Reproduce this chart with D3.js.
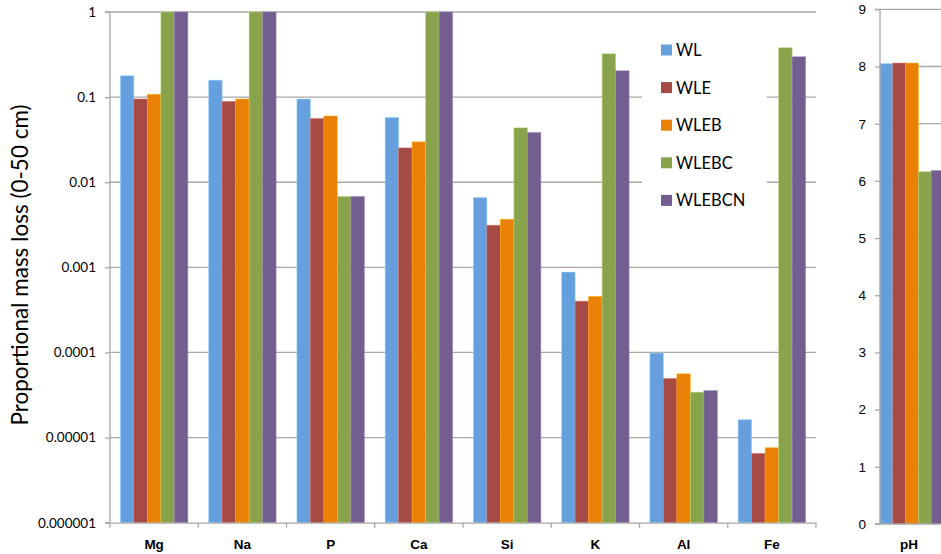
<!DOCTYPE html>
<html><head><meta charset="utf-8">
<script src="https://cdn.jsdelivr.net/npm/d3@7"></script>
<style>body{margin:0;background:#fff;} svg{display:block;font-family:Lato,"Open Sans",sans-serif;}</style>
</head><body>
<svg id="c" width="941" height="554"></svg>
<script>
const categories = ["Mg","Na","P","Ca","Si","K","Al","Fe"];
const series = ["WL","WLE","WLEB","WLEBC","WLEBCN"];
const colors = ["#669fdd","#a64a45","#eb8006","#89a24c","#735e8f"];
const WL     = [0.178, 0.158, 0.095, 0.0577, 0.0066, 0.00088, 0.0000982, 0.0000162];
const WLE    = [0.095, 0.089, 0.056, 0.0253, 0.00312, 0.00040, 0.0000494, 0.0000065];
const WLEB   = [0.108, 0.095, 0.060, 0.0298, 0.00367, 0.000456, 0.0000562, 0.0000076];
const WLEBC  = [1, 1, 0.0068, 1, 0.0435, 0.323, 0.0000341, 0.38];
const WLEBCN = [1, 1, 0.0068, 1, 0.0384, 0.204, 0.0000357, 0.298];
const logTicks = [1, 0.1, 0.01, 0.001, 0.0001, 0.00001, 0.000001];
const logTickLabels = ["1","0.1","0.01","0.001","0.0001","0.00001","0.000001"];
const phCategory = ["pH"];
const phValues = [8.05, 8.06, 8.06, 6.16, 6.18];
const phTicks = [0,1,2,3,4,5,6,7,8,9];

const values = [WL, WLE, WLEB, WLEBC, WLEBCN];
const svg = d3.select("#c");
const grid = "#a8a8a8";

// ---- left panel ----
const L = {x0:110, x1:816, y0:12, y1:522.7};
const x = d3.scaleBand().domain(categories).range([L.x0, L.x1]).paddingInner(0).paddingOuter(0);
const inner = d3.scaleBand().domain(series).range([0, x.bandwidth()]).paddingInner(0).paddingOuter(0.77);
const y = d3.scaleLog().domain([0.000001, 1]).range([L.y1, L.y0]);

const gL = svg.append("g");
// gridlines
gL.append("g").selectAll("line").data(logTicks.slice(0, -1)).join("line")
  .attr("x1", L.x0).attr("x2", L.x1).attr("y1", d=>y(d)).attr("y2", d=>y(d))
  .attr("stroke", grid).attr("stroke-width", 1.3);

// legend background (covers gridlines)
const legX = 661, legY0 = 50, legStep = 37.6;
gL.append("rect").attr("x", 642).attr("y", 26).attr("width", 125).attr("height", 198).attr("fill", "#fff");

// bars
series.forEach((s, si) => {
  gL.append("g").selectAll("rect").data(categories).join("rect")
    .attr("x", (c)=> x(c) + inner(s))
    .attr("width", inner.bandwidth())
    .attr("y", (c,i)=> y(values[si][i]))
    .attr("height", (c,i)=> y(0.000001) - y(values[si][i]))
    .attr("fill", colors[si])
    .attr("stroke", d3.color(colors[si]).brighter(0.9))
    .attr("stroke-opacity", 0.6)
    .attr("stroke-width", 0.8);
});

// y axis
const yAxis = d3.axisLeft(y).tickValues(logTicks).tickFormat((d,i)=>logTickLabels[i]).tickSize(5).tickPadding(9);
const ya = gL.append("g").attr("transform", `translate(${L.x0},0)`).call(yAxis);
ya.select(".domain").attr("stroke", grid).attr("stroke-width", 1.3).attr("d", `M-5,${L.y0}H0V${L.y1}H-5`);
ya.selectAll(".tick line").attr("stroke", grid).attr("stroke-width", 1.3);
ya.selectAll("text").attr("font-size", 13.5).attr("fill", "#000").attr("font-family", "Lato");

// x axis
const xAxis = d3.axisBottom(x).tickSize(0).tickPadding(17);
const xa = gL.append("g").attr("transform", `translate(0,${L.y1})`).call(xAxis);
xa.select(".domain").attr("stroke", grid).attr("stroke-width", 1.3);
xa.selectAll("text").attr("font-size", 13.5).attr("font-weight", "bold").attr("fill", "#000");
// category boundary ticks
gL.append("g").selectAll("line").data(categories.concat(["__end"])).join("line")
  .attr("x1", (c,i)=> L.x0 + i*x.step()).attr("x2", (c,i)=> L.x0 + i*x.step())
  .attr("y1", L.y1).attr("y2", L.y1+5).attr("stroke", grid).attr("stroke-width", 1.3);

// y title
svg.append("text").attr("transform", `translate(28,265) rotate(-90)`)
  .attr("text-anchor", "middle").attr("font-size", 22.5).attr("fill", "#000")
  .text("Proportional mass loss (0-50 cm)");

// legend
const leg = svg.append("g");
series.forEach((s, si) => {
  leg.append("rect").attr("x", legX).attr("y", legY0 + si*legStep - 5.5).attr("width", 11).attr("height", 11).attr("fill", colors[si]);
  leg.append("text").attr("x", legX + 15).attr("y", legY0 + si*legStep + 6).attr("font-size", 16.5).attr("fill", "#000").text(s);
});

// ---- right panel ----
const R = {x0:880, x1:944, y0:9.3, y1:524};
const xr = d3.scaleBand().domain(phCategory).range([R.x0, R.x1]).padding(0);
const innerR = d3.scaleBand().domain(series).range([0, xr.bandwidth()]).padding(0);
const yr = d3.scaleLinear().domain([0, 9]).range([R.y1, R.y0]);
const gR = svg.append("g");
gR.append("g").selectAll("line").data(phTicks.slice(1)).join("line")
  .attr("x1", R.x0).attr("x2", 960).attr("y1", d=>yr(d)).attr("y2", d=>yr(d))
  .attr("stroke", grid).attr("stroke-width", 1.3);
series.forEach((s, si) => {
  gR.append("rect")
    .attr("x", xr("pH") + innerR(s)).attr("width", innerR.bandwidth())
    .attr("y", yr(phValues[si])).attr("height", yr(0) - yr(phValues[si]))
    .attr("fill", colors[si])
    .attr("stroke", d3.color(colors[si]).brighter(0.9)).attr("stroke-opacity", 0.6).attr("stroke-width", 0.8);
});
const yrAxis = d3.axisLeft(yr).tickValues(phTicks).tickFormat(d3.format("d")).tickSize(5).tickPadding(9);
const yra = gR.append("g").attr("transform", `translate(${R.x0},0)`).call(yrAxis);
yra.select(".domain").attr("stroke", grid).attr("stroke-width", 1.3).attr("d", `M-5,${R.y0}H0V${R.y1}H-5`);
yra.selectAll(".tick line").attr("stroke", grid).attr("stroke-width", 1.3);
yra.selectAll("text").attr("font-size", 13.5).attr("fill", "#000");
const xrAxis = d3.axisBottom(xr).tickSize(0).tickPadding(15);
const xra = gR.append("g").attr("transform", `translate(0,${R.y1})`).call(xrAxis);
xra.select(".domain").attr("stroke", grid).attr("stroke-width", 1.3).attr("d", `M${R.x0},0H960`);
xra.selectAll("text").attr("font-size", 13.5).attr("font-weight", "bold").attr("fill", "#000").attr("dx", -3);
</script>
</body></html>
